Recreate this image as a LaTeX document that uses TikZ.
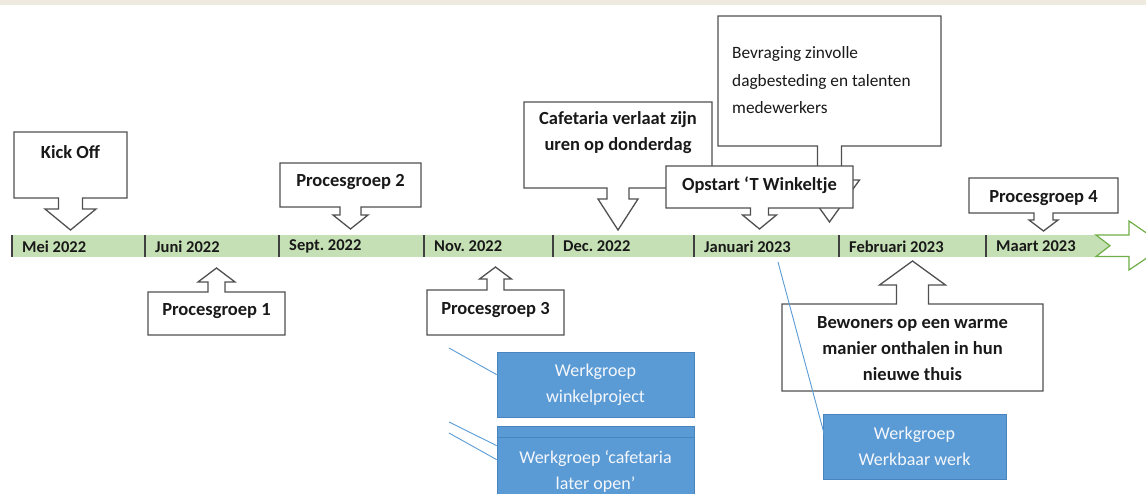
\documentclass[tikz,border=0pt]{standalone}
\usepackage{fontspec}
\setmainfont{Carlito}
\frenchspacing
\definecolor{topband}{HTML}{EEEAE0}
\definecolor{barfill}{HTML}{C5E0B4}
\definecolor{barend}{HTML}{70AD47}
\definecolor{tickc}{HTML}{404040}
\definecolor{calline}{HTML}{505050}
\definecolor{wgfill}{HTML}{5B9BD5}
\definecolor{wgline}{HTML}{4A84BC}
\definecolor{wgtext}{HTML}{F4F7FB}

% box with block arrow: centre x, half width, far edge y, near edge y,
% shaft half width, head half width, neck y, tip y
\newcommand{\calbox}[8]{%
  \draw[callout] ({#1-#2},#3) -- ({#1+#2},#3) -- ({#1+#2},#4) --
    ({#1+#5},#4) -- ({#1+#5},#7) -- ({#1+#6},#7) -- (#1,#8) --
    ({#1-#6},#7) -- ({#1-#5},#7) -- ({#1-#5},#4) -- ({#1-#2},#4) -- cycle;}

\tikzset{
  callout/.style={draw=calline, fill=white, line width=1.3pt, line join=miter},
  mlabel/.style={anchor=west, inner sep=0pt, text=black!90,
    font=\fontsize{16.5}{20}\selectfont\bfseries},
  ctext/.style={inner sep=0pt, align=center, text=black!90,
    font=\fontsize{18.5}{26}\selectfont\bfseries},
  wgbox/.style={draw=wgline, fill=wgfill, line width=0.8pt, text=wgtext,
    align=center, font=\fontsize{18}{26}\selectfont},
  wglink/.style={draw=wgfill, line width=0.9pt}
}

\begin{document}
\begin{tikzpicture}[x=1pt,y=-1pt]
   \useasboundingbox (0,0) rectangle (1146,493);
   \fill[topband] (0,0) rectangle (1146,4.5);
   % time bar
   \fill[barfill] (12,235) rectangle (1096,256.5);
   \fill[barfill] (1096,235) -- (1110,245.7) -- (1096,256.5) -- cycle;
   \draw[barend, fill=white, line width=1.2pt]
     (1096,235) -- (1129,235) -- (1129,221) -- (1165,245.7) --
     (1129,270) -- (1129,256.5) -- (1096,256.5) -- (1110,245.7) -- cycle;
   \foreach \tx in {12,145,279,424,553,694,839,986}
     \draw[tickc, line width=2pt] (\tx,235) -- (\tx,257);
   \node[mlabel] (mei)  at (22,246.5)  {Mei 2022};
   \node[mlabel] (juni) at (155,246.5) {Juni 2022};
   \node[mlabel] (sept) at (289,246.5) {Sept. 2022};
   \node[mlabel] (nov)  at (434,246.5) {Nov. 2022};
   \node[mlabel] (dec)  at (563,246.5) {Dec. 2022};
   \node[mlabel] (jan)  at (704,246.5) {Januari 2023};
   \node[mlabel] (feb)  at (849,246.5) {Februari 2023};
   \node[mlabel] (mrt)  at (996,246.5) {Maart 2023};
   % callouts above the bar
   \calbox{70.5}{56.5}{132}{198}{12}{25.5}{209}{230}
   \node[ctext] (kick) at (70.5,152) {Kick Off};
   \calbox{350.5}{70.5}{163}{207}{10.5}{17.5}{215}{229}
   \node[ctext] (pg2) at (350.5,182) {Procesgroep 2};
   \calbox{829.5}{111.5}{16}{146}{12}{30}{180}{222}
   \node[anchor=west, inner sep=0pt, align=left, text=black!90,
     font=\fontsize{17.3}{27.5}\selectfont] (bevr) at (732,80.5)
     {Bevraging zinvolle\\dagbesteding en talenten\\medewerkers};
   \calbox{618}{94}{102}{188}{11}{20}{199}{230}
   \node[ctext] (cafe) at (618,133) {Cafetaria verlaat zijn\\uren op donderdag};
   \calbox{759.5}{93.5}{166}{208}{9}{17}{215}{229}
   \node[ctext] (winkeltje) at (759.5,185) {Opstart ‘T Winkeltje};
   \calbox{1043.5}{74.5}{178}{213}{9.5}{14.5}{220}{231}
   \node[ctext] (pg4) at (1043.5,198) {Procesgroep 4};
   % callouts below the bar
   \calbox{216.5}{68.5}{335}{292}{8.5}{18.5}{282}{268}
   \node[ctext] (pg1) at (216.5,311) {Procesgroep 1};
   \calbox{495.5}{68.5}{335}{290}{8.5}{16}{279}{267}
   \node[ctext] (pg3) at (495.5,310) {Procesgroep 3};
   \calbox{912.5}{130.5}{391}{304}{16}{33}{285}{261}
   \node[ctext] (bew) at (912.5,348.5)
     {Bewoners op een warme\\manier onthalen in hun\\nieuwe thuis};
   % werkgroepen
   \node[wgbox, minimum width=197, minimum height=65] (wgwinkel)
     at (595.5,384.5) {Werkgroep\\winkelproject};
   \node[wgbox, minimum width=197, minimum height=91] (wgcafe)
     at (595.5,471.5) {Werkgroep ‘cafetaria\\later open’};
   \draw[wgline, line width=0.9pt] (wgcafe.north west) ++(0,12) -- ++(197,0);
   \node[wgbox, minimum width=183, minimum height=65] (wgwerk)
     at (914.5,446.5) {Werkgroep\\Werkbaar werk};
   \coordinate (l1) at (449,348);
   \coordinate (l2) at (449,422);
   \coordinate (l3) at (449,433);
   \coordinate (l4) at (778,262);
   \draw[wglink] (l1) -- ([yshift=-23pt]wgwinkel.north west);
   \draw[wglink] (l2) -- ([yshift=-20pt]wgcafe.north west);
   \draw[wglink] (l3) -- ([yshift=-34pt]wgcafe.north west);
   \draw[wglink] (l4) -- ([shift={(2pt,-22pt)}]wgwerk.north west);
\end{tikzpicture}
\end{document}
